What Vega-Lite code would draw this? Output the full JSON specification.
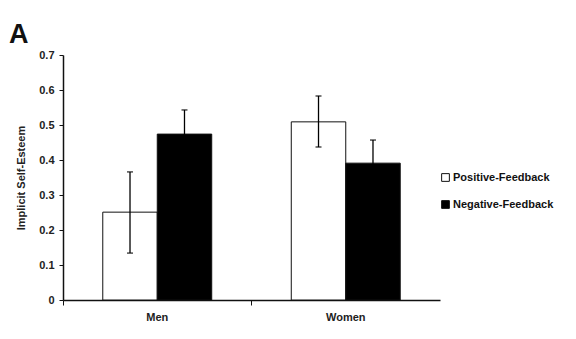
{
  "$schema": "https://vega.github.io/schema/vega-lite/v6.json",
  "width": 377,
  "height": 245,
  "autosize": "none",
  "padding": {"left": 63, "top": 55, "right": 136, "bottom": 39},
  "background": "white",
  "config": {"view": {"stroke": null}, "font": "Liberation Sans",
    "axisY": {"titleFontWeight": "bold", "titleFontSize": 11, "titleColor": "#222", "titlePadding": 12,
      "labelFontWeight": "bold", "labelFontSize": 11, "labelColor": "#222",
      "grid": false, "domainColor": "#111", "domainWidth": 1.5, "tickColor": "#111", "tickSize": 4, "labelPadding": 5}},
  "title": {"text": "A", "anchor": "start", "frame": "group", "dx": -54, "offset": 0, "fontSize": 27, "fontWeight": "bold", "font": "Liberation Sans", "color": "#111"},
  "data": {"values": [
    {"group": "Men", "feedback": "Positive-Feedback", "value": 0.251, "lo": 0.134, "hi": 0.366},
    {"group": "Men", "feedback": "Negative-Feedback", "value": 0.474, "lo": 0.405, "hi": 0.543},
    {"group": "Women", "feedback": "Positive-Feedback", "value": 0.509, "lo": 0.437, "hi": 0.583},
    {"group": "Women", "feedback": "Negative-Feedback", "value": 0.391, "lo": 0.325, "hi": 0.457}
  ]},
  "encoding": {
    "x": {"field": "group", "type": "nominal", "sort": ["Men", "Women"],
      "scale": {"paddingInner": 0, "paddingOuter": 0},
      "axis": {"title": null, "labelAngle": 0, "labelFontWeight": "bold", "labelFontSize": 11, "labelColor": "#222", "labelPadding": 6, "domainColor": "#111", "domainWidth": 1.5, "tickColor": "#111", "tickSize": 5, "bandPosition": 0}},
    "xOffset": {"field": "feedback", "type": "nominal", "sort": ["Positive-Feedback", "Negative-Feedback"],
      "scale": {"paddingInner": 0, "paddingOuter": 0.73}}
  },
  "layer": [
    {
      "mark": {"type": "bar", "stroke": "#111", "strokeWidth": 1},
      "encoding": {
        "y": {"field": "value", "type": "quantitative", "scale": {"domain": [0, 0.7], "nice": false},
          "axis": {"title": "Implicit Self-Esteem", "values": [0, 0.1, 0.2, 0.3, 0.4, 0.5, 0.6, 0.7], "format": "~g"}},
        "fill": {"field": "feedback", "type": "nominal", "sort": ["Positive-Feedback", "Negative-Feedback"],
          "scale": {"domain": ["Positive-Feedback", "Negative-Feedback"], "range": ["white", "black"]},
          "legend": {"title": null, "orient": "none", "legendX": 377, "legendY": 117, "symbolType": "square", "symbolSize": 60, "symbolStrokeColor": "#111", "symbolStrokeWidth": 1,
            "labelFontWeight": "bold", "labelFontSize": 11, "labelColor": "#111", "rowPadding": 14, "labelOffset": 2}}
      }
    },
    {
      "mark": {"type": "rule", "color": "#000", "strokeWidth": 1.3},
      "encoding": {"y": {"field": "lo", "type": "quantitative", "axis": {"title": "Implicit Self-Esteem", "values": [0, 0.1, 0.2, 0.3, 0.4, 0.5, 0.6, 0.7], "format": "~g"}}, "y2": {"field": "hi"}}
    },
    {
      "mark": {"type": "tick", "color": "#000", "size": 6, "thickness": 1.5},
      "encoding": {"y": {"field": "hi", "type": "quantitative", "axis": {"title": "Implicit Self-Esteem", "values": [0, 0.1, 0.2, 0.3, 0.4, 0.5, 0.6, 0.7], "format": "~g"}}}
    },
    {
      "mark": {"type": "tick", "color": "#000", "size": 6, "thickness": 1.5},
      "encoding": {"y": {"field": "lo", "type": "quantitative", "axis": {"title": "Implicit Self-Esteem", "values": [0, 0.1, 0.2, 0.3, 0.4, 0.5, 0.6, 0.7], "format": "~g"}}}
    }
  ]
}
